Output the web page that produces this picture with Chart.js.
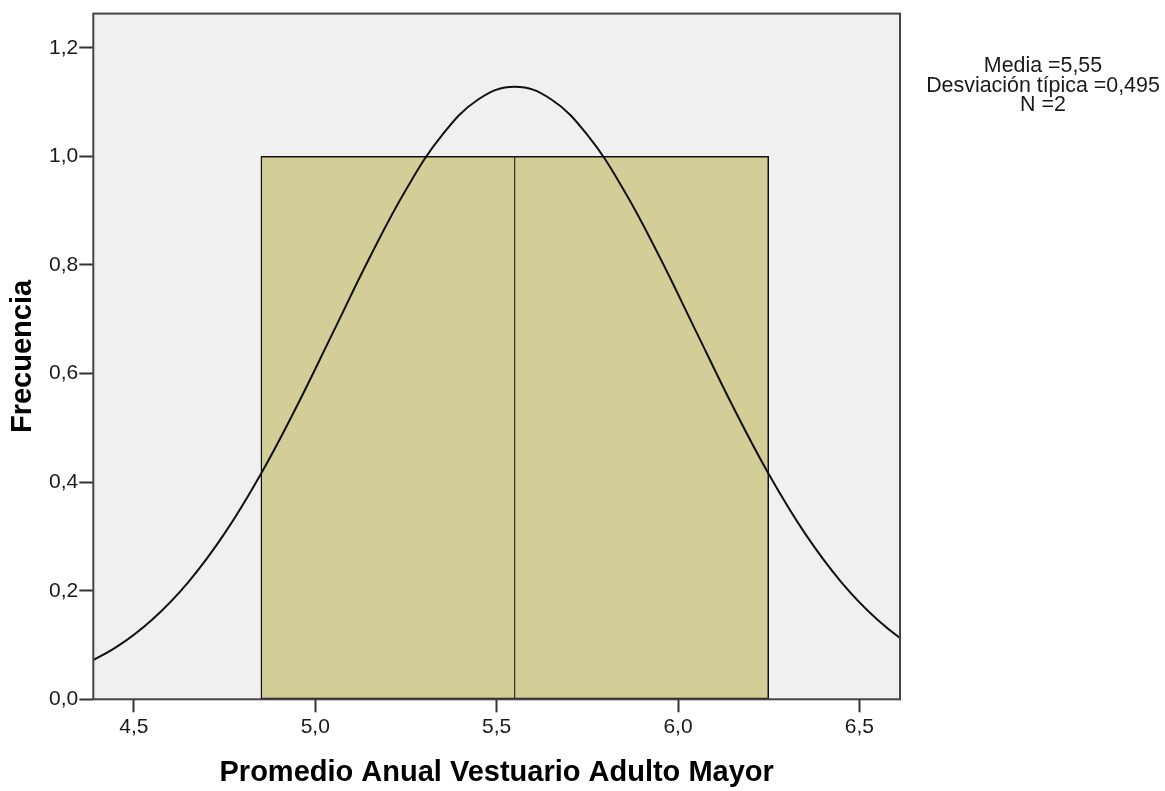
<!DOCTYPE html>
<html>
<head>
<meta charset="utf-8">
<script src="https://cdn.jsdelivr.net/npm/chart.js@4.4.1/dist/chart.umd.min.js"></script>
<style>
  html, body { margin: 0; padding: 0; background: #fff; }
  #wrap { position: relative; width: 1165px; height: 791px; }
  #stats {
    position: absolute; left: 913px; top: 56px; width: 260px; text-align: center;
    font: 21.4px "Liberation Sans", Arial, sans-serif; line-height: 19.5px; color: #1a1a1a;
  }
</style>
</head>
<body>
<div id="wrap">
  <canvas id="c"></canvas>
  <div id="stats">Media =5,55<br>Desviación típica =0,495<br>N =2</div>
</div>
<script>
/* Histograma + curva normal (estilo SPSS) */
const binEdges   = [4.85, 5.55, 6.25];
const binCenters = [5.2, 5.9];
const binCounts  = [1, 1];

// curva normal
const curveX = [4.35, 4.45, 4.55, 4.65, 4.75, 4.85, 4.95, 5.05, 5.15, 5.25, 5.35, 5.45, 5.55,
                5.65, 5.75, 5.85, 5.95, 6.05, 6.15, 6.25, 6.35, 6.45, 6.55, 6.65, 6.75];
const curveY = [0.0597, 0.0955, 0.1466, 0.2160, 0.3056, 0.4150, 0.5411, 0.6773, 0.8138, 0.9387, 1.0396, 1.1052, 1.1283,
                1.1052, 1.0396, 0.9387, 0.8138, 0.6773, 0.5411, 0.4150, 0.3056, 0.2160, 0.1466, 0.0955, 0.0597];

const xTicks = [4.5, 5.0, 5.5, 6.0, 6.5];
const yTicks = [0, 0.2, 0.4, 0.6, 0.8, 1.0, 1.2];
const xRange = [4.388, 6.612];
const yRange = [0, 1.263];

const FONT = "'Liberation Sans', Arial, sans-serif";
const comma = (v) => Number(v).toFixed(1).replace(".", ",");

// fondo gris y marco del área de trazado
const frame = {
  id: "frame",
  beforeDraw(chart) {
    const a = chart.chartArea, ctx = chart.ctx;
    ctx.save();
    ctx.fillStyle = "#f0f0f0";
    ctx.fillRect(a.left, a.top, a.right - a.left, a.bottom - a.top);
    ctx.restore();
  },
  afterDraw(chart) {
    const a = chart.chartArea, ctx = chart.ctx;
    ctx.save();
    ctx.strokeStyle = "#444";
    ctx.lineWidth = 2;
    ctx.strokeRect(a.left, a.top, a.right - a.left, a.bottom - a.top);
    ctx.restore();
  }
};

new Chart(document.getElementById("c"), {
  type: "bar",
  data: {
    datasets: [
      {
        type: "line",
        order: 0,
        data: curveX.map((x, i) => ({ x, y: curveY[i] })),
        borderColor: "#111",
        borderWidth: 2,
        pointRadius: 0,
        tension: 0.4,
        fill: false
      },
      {
        type: "bar",
        order: 1,
        data: binCenters.map((x, i) => ({ x, y: binCounts[i] })),
        backgroundColor: "#d3ce97",
        borderColor: "#111",
        // borde interior compartido: mitad en cada barra
        borderWidth: [
          { top: 1.5, left: 1.5, bottom: 1.5, right: 0.8 },
          { top: 1.5, left: 0.8, bottom: 1.5, right: 1.5 }
        ],
        borderSkipped: false,
        barThickness: (c) => {
          const s = c.chart.scales && c.chart.scales.x;
          if (!s) return undefined;
          return s.getPixelForValue(binEdges[1]) - s.getPixelForValue(binEdges[0]);
        }
      }
    ]
  },
  options: {
    responsive: true, maintainAspectRatio: false, animation: false,
    layout: { padding: { top: 12, right: 265, left: 0, bottom: 0 } },
    plugins: { legend: { display: false }, tooltip: { enabled: false } },
    scales: {
      x: {
        type: "linear", min: xRange[0], max: xRange[1], offset: false,
        afterBuildTicks: (s) => { s.ticks = xTicks.map(v => ({ value: v })); },
        afterFit: (s) => { s.height = 91.7; },
        grid: { offset: false, drawOnChartArea: false, drawTicks: true, tickLength: 13, tickColor: "#333", tickWidth: 2 },
        border: { display: false },
        ticks: { color: "#1a1a1a", font: { family: FONT, size: 21 }, padding: 2, callback: (v) => comma(v) },
        title: {
          display: true, text: "Promedio Anual Vestuario Adulto Mayor", color: "#000",
          font: { family: FONT, size: 29, weight: "bold" }, padding: { top: 0, bottom: 1 }
        }
      },
      y: {
        min: yRange[0], max: yRange[1],
        afterBuildTicks: (s) => { s.ticks = yTicks.map(v => ({ value: v })); },
        afterFit: (s) => { s.width = 93.3; },
        grid: { drawOnChartArea: false, drawTicks: true, tickLength: 14, tickColor: "#333", tickWidth: 2 },
        border: { display: false },
        ticks: { color: "#1a1a1a", font: { family: FONT, size: 21 }, padding: 1, callback: (v) => comma(v) },
        title: {
          display: true, text: "Frecuencia", color: "#000",
          font: { family: FONT, size: 29, weight: "bold" }, padding: { top: 6, bottom: 0 }
        }
      }
    }
  },
  plugins: [frame]
});
</script>
</body>
</html>
